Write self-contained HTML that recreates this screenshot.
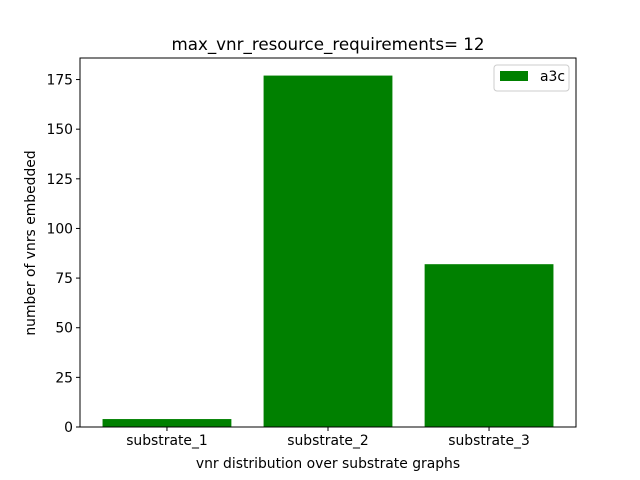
<!DOCTYPE html>
<html><head><meta charset="utf-8"><style>
body{margin:0;background:#fff;}
svg{display:block;font-family:"DejaVu Sans","Liberation Sans",sans-serif;}
</style></head><body>
<svg id="chart" width="640" height="480">
<rect width="640" height="480" fill="#fff"/>
<text x="328" y="50" text-anchor="middle" font-size="16.7">max_vnr_resource_requirements= 12</text>
<g id="bars"></g>
<g id="axes"></g>
<text x="328" y="468" text-anchor="middle" font-size="13.9">vnr distribution over substrate graphs</text>
<text transform="translate(35,243) rotate(-90)" text-anchor="middle" font-size="13.9">number of vnrs embedded</text>
<g>
<rect x="494" y="65" width="75" height="26" fill="#fff" stroke="#ccc" rx="3"/>
<rect x="500" y="71" width="28" height="10" fill="green"/>
<text x="540" y="81" font-size="13.9">a3c</text>
</g>
</svg>
<script>
const categories=["substrate_1","substrate_2","substrate_3"];
const values=[4,177,82];
const yTicks=[0,25,50,75,100,125,150,175];
const L=80,R=576,T=58,B=427;
const maxV=Math.max(...values)*1.05;
const xmin=-0.54,xmax=categories.length-1+0.54;
const xs=v=>L+(v-xmin)/(xmax-xmin)*(R-L);
const ys=v=>B-v/maxV*(B-T);
const NS="http://www.w3.org/2000/svg";
const bars=document.getElementById('bars'),axes=document.getElementById('axes');
function mk(tag,attrs,parent){const e=document.createElementNS(NS,tag);for(const k in attrs)e.setAttribute(k,attrs[k]);parent.appendChild(e);return e;}
values.forEach((v,i)=>{
 const r=mk('rect',{x:xs(i-0.4),y:ys(v),width:xs(i+0.4)-xs(i-0.4),height:B-ys(v),fill:'green'},bars);
 
 
 mk('line',{x1:xs(i),x2:xs(i),y1:B,y2:B+4,stroke:'#000'},axes);
 const l=mk('text',{x:xs(i),y:B+18,'text-anchor':'middle','font-size':'13.9'},axes);
 l.textContent=categories[i];
 
 
});
yTicks.forEach(v=>{
 mk('line',{x1:L-4,x2:L,y1:ys(v),y2:ys(v),stroke:'#000'},axes);
 const l=mk('text',{x:L-7,y:ys(v)+5,'text-anchor':'end','font-size':'13.9'},axes);
 l.textContent=v;
 
 
});
const f=mk('rect',{x:L,y:T,width:R-L,height:B-T,fill:'none',stroke:'#000','stroke-width':1},axes);


</script>
</body></html>
